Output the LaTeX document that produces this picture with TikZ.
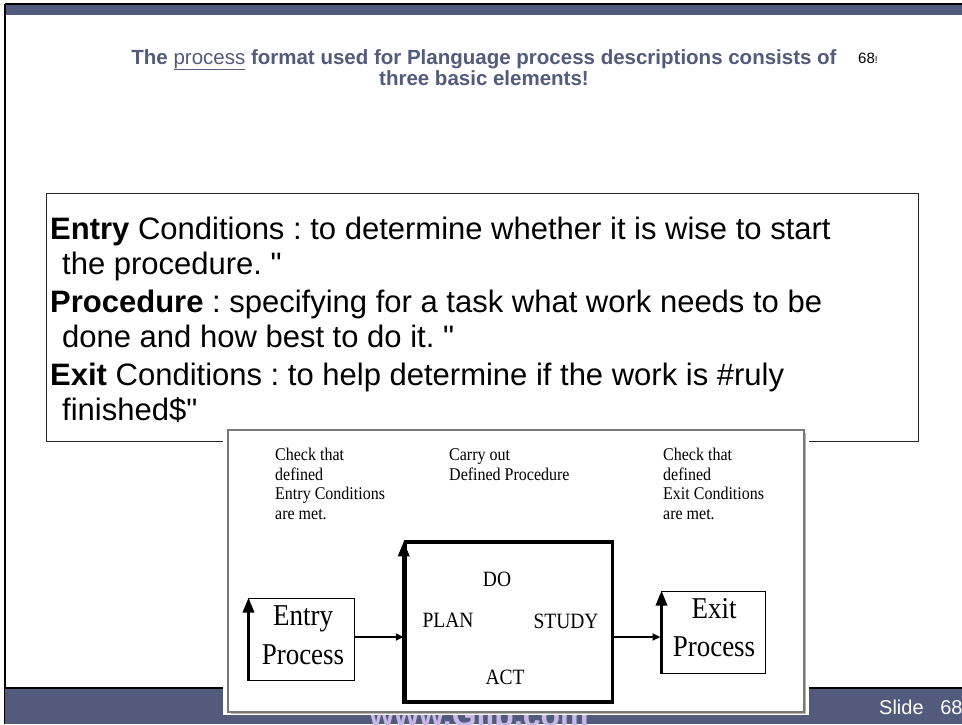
\documentclass[tikz,border=0pt]{standalone}
\usepackage{fontspec}
\setmainfont{Liberation Sans}
\newfontfamily\timesf{Liberation Serif}
\newfontfamily\rawsans{Liberation Sans}[Ligatures=TeXOff]
\usetikzlibrary{arrows.meta}
\definecolor{band}{RGB}{83,91,125}
\definecolor{foot}{RGB}{200,184,232}
\definecolor{frame}{RGB}{120,120,120}
\newcommand{\vst}[1]{\scalebox{1}[1.12]{#1}}
\newcommand{\dq}{{\rawsans\symbol{"22}}}
\frenchspacing
\tikzset{
  bodytxt/.style={anchor=base west, inner sep=0pt, font=\fontsize{31}{34}\selectfont},
  small/.style={anchor=base west, inner sep=0pt, font=\timesf\fontsize{16}{18}\selectfont},
  pdca/.style={anchor=base, inner sep=0pt, font=\timesf\fontsize{19.5}{22}\selectfont},
  bigt/.style={anchor=base, inner sep=0pt, font=\timesf\fontsize{27}{30}\selectfont},
  flow/.style={line width=2.4pt, -{Triangle[width=7pt,length=8pt]}},
  uparr/.style={line width=3.2pt, -{Triangle[width=11pt,length=15pt]}},
}
\begin{document}
\begin{tikzpicture}[x=1pt,y=-1pt]
\useasboundingbox (0,0) rectangle (962,724);
\fill[white] (0,0) rectangle (962,724);
% top band
\fill[band] (5,4) rectangle (962,15);
\draw[black, line width=2.5pt] (5,4) -- (962,4);
\draw[black, line width=2.5pt] (5,4) -- (5,724);
% bottom band
\fill[band] (5,688) rectangle (962,724);
\draw[black, line width=1.5pt] (5,688) -- (962,688);
\begin{scope}
\clip (5,688) rectangle (962,724);
\node[anchor=base, inner sep=0pt, text=foot, font=\bfseries\fontsize{32}{34}\selectfont] (www) at (479,726) {www.Gilb.com};
\end{scope}
\node[anchor=base west, inner sep=0pt, text=white, font=\fontsize{20}{22}\selectfont] (slide) at (879,714) {Slide\ \ \ 68};
% title
\node[anchor=base, inner sep=0pt, text=band, font=\bfseries\fontsize{20.5}{24}\selectfont] (t1) at (484,64) {The \underline{\mdseries process} format used for Planguage process descriptions consists of};
\node[anchor=base, inner sep=0pt, text=band, font=\bfseries\fontsize{20.5}{24}\selectfont] (t2) at (484,85) {three basic elements!};
\node[anchor=base west, inner sep=0pt, font=\fontsize{15}{17}\selectfont] (pg) at (858,63) {68\fontsize{10}{12}\selectfont!};
% text box
\draw[black!85, line width=1pt] (46,193) rectangle (918,441);
\node[bodytxt] (e1) at (50,239) {\textbf{Entry} Conditions : to determine whether it is wise to start};
\node[bodytxt] (e2) at (62,274) {the procedure. \dq};
\node[bodytxt] (p1) at (50,312) {\textbf{Procedure} : specifying for a task what work needs to be};
\node[bodytxt] (p2) at (62,347) {done and how best to do it. \dq};
\node[bodytxt] (x1) at (50,385) {\textbf{Exit} Conditions : to help determine if the work is \#ruly};
\node[bodytxt] (x2) at (62,420) {finished\$\dq};
% image box
\fill[white] (223,426) rectangle (809,715);
\fill[black!30] (231,433) rectangle (806,714);
\draw[frame, line width=1.3pt, fill=white] (228,430) rectangle (804,712);
% image text
\node[small] (c1) at (275,460) {\vst{Check that}};
\node[small] (c2) at (275,480) {\vst{defined}};
\node[small] (c3) at (275,499) {\vst{Entry Conditions}};
\node[small] (c4) at (275,519) {\vst{are met.}};
\node[small] (d1) at (449,460) {\vst{Carry out}};
\node[small] (d2) at (449,480) {\vst{Defined Procedure}};
\node[small] (f1) at (663,460) {\vst{Check that}};
\node[small] (f2) at (663,480) {\vst{defined}};
\node[small] (f3) at (663,499) {\vst{Exit Conditions}};
\node[small] (f4) at (663,519) {\vst{are met.}};
% PDCA box
\node[draw, line width=3.5pt, minimum width=207pt, minimum height=160pt, inner sep=0pt] (box) at (509,622) {};
\node[pdca] (do) at (497,586) {\vst{DO}};
\node[pdca] (plan) at (448,627) {\vst{PLAN}};
\node[pdca] (study) at (566,628) {\vst{STUDY}};
\node[pdca] (act) at (505,684) {\vst{ACT}};
\draw[uparr] (box.south west) -- ([yshift=-1pt]box.north west);
% Entry box
\node[draw, line width=1pt, minimum width=106pt, minimum height=82pt, inner sep=0pt] (entry) at (301,639) {};
\node[bigt] (en1) at (303,625) {\vst{Entry}};
\node[bigt] (en2) at (303,664) {\vst{Process}};
\draw[uparr] ([xshift=1pt]entry.south west) -- ([xshift=1pt]entry.north west);
% Exit box
\node[draw, line width=1pt, minimum width=104pt, minimum height=82pt, inner sep=0pt] (exit) at (713,632) {};
\node[bigt] (ex1) at (714,618) {\vst{Exit}};
\node[bigt] (ex2) at (714,656) {\vst{Process}};
\draw[uparr] ([xshift=1pt]exit.south west) -- ([xshift=1pt]exit.north west);
% flow arrows
\draw[flow] (entry.east |- 0,637) -- (box.west |- 0,637);
\draw[flow] (box.east |- 0,637) -- (exit.west |- 0,637);
\end{tikzpicture}
\end{document}
